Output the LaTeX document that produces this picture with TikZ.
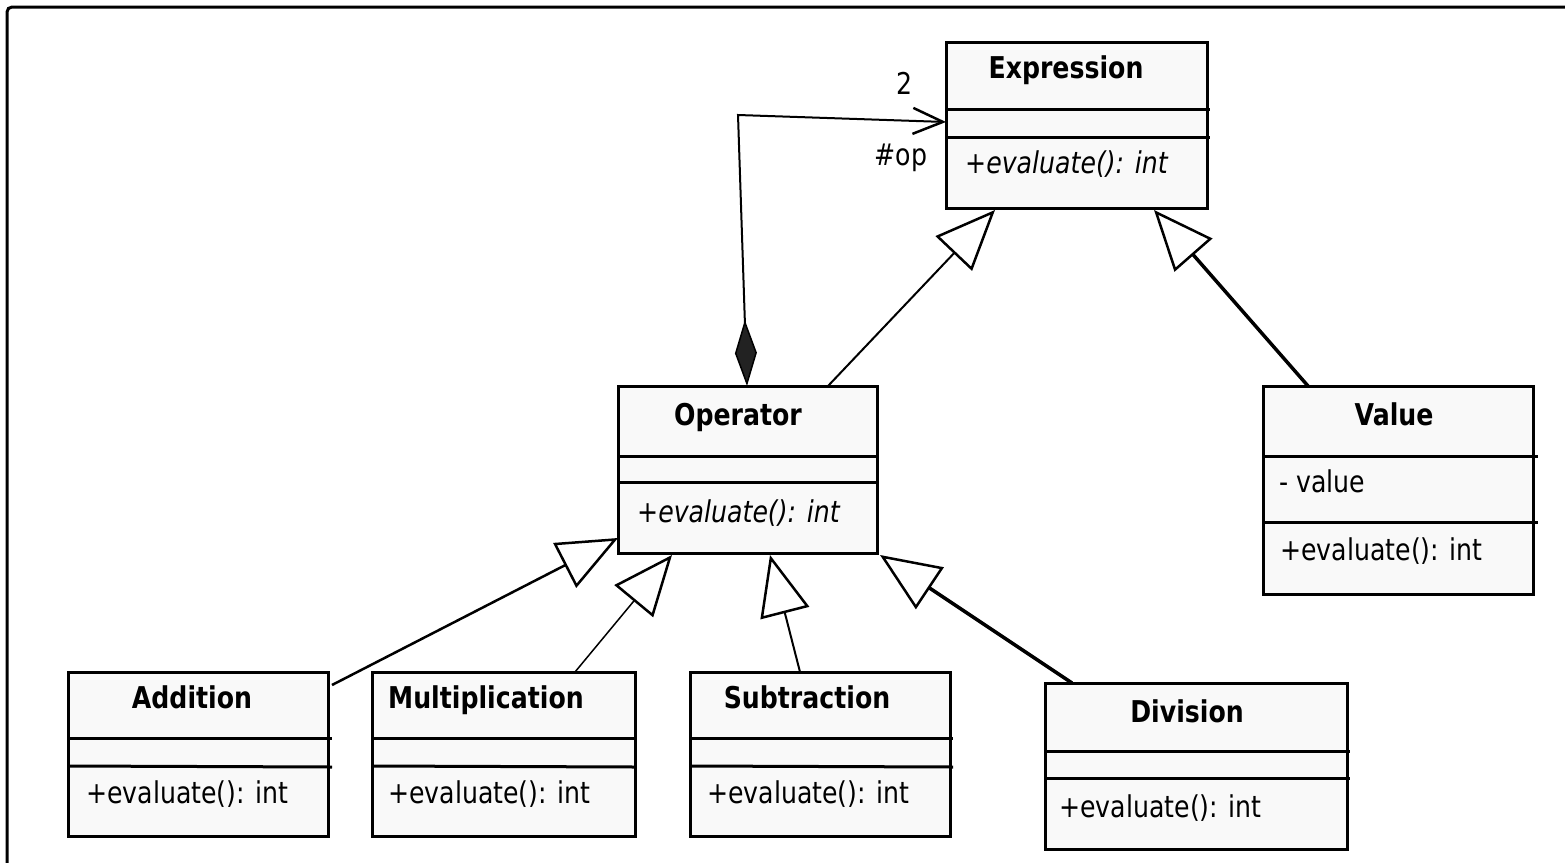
\documentclass[tikz,border=0pt]{standalone}
\usepackage{fontspec}
\setmainfont{DejaVu Sans}[FakeStretch=0.84]
\usetikzlibrary{arrows.meta,calc}
\definecolor{boxfill}{RGB}{249,249,249}
\definecolor{diamondc}{RGB}{34,34,34}
\begin{document}
\begin{tikzpicture}[x=1pt,y=-1pt,
  cls/.style={draw, line width=3pt, fill=boxfill, inner sep=0pt, outer sep=0pt, anchor=north west},
  divider/.style={line width=3pt},
  cname/.style={font=\bfseries\fontsize{30}{34}\selectfont, anchor=base, inner sep=0pt},
  member/.style={font=\fontsize{30}{34}\selectfont, anchor=base west, inner sep=0pt},
  abstr/.style={font=\itshape\fontsize{30}{34}\selectfont, anchor=base west, inner sep=0pt},
  rolelbl/.style={font=\fontsize{30}{34}\selectfont, inner sep=0pt},
  gen/.style={-{Triangle[open, length=60pt, width=50pt, line width=2.5pt]}}
]
\useasboundingbox (0,0) rectangle (1565,862);
\clip (0,0) rectangle (1565,862);
\draw[line width=3pt, rounded corners=5pt] (7,900) -- (7,7) -- (1600,7);

% Expression
\node[cls, minimum width=261pt, minimum height=166pt] (expr) at (946,42) {};
\draw[divider] (expr.north west) ++(0,67) -- ++(264,0);
\draw[divider] (expr.north west) ++(0,95) -- ++(264,0);
\node[cname] (exprname) at (1066,78) {Expression};
\node[abstr] (exprop) at (965,173) {+evaluate(): int};

% Operator
\node[cls, minimum width=259pt, minimum height=167pt] (op) at (618,386) {};
\draw[divider] (op.north west) ++(0,70) -- ++(259,0);
\draw[divider] (op.north west) ++(0,96) -- ++(259,0);
\node[cname] (opname) at (738,425) {Operator};
\node[abstr] (opop) at (637,522) {+evaluate(): int};

% Value
\node[cls, minimum width=270pt, minimum height=208pt] (val) at (1263,386) {};
\draw[divider] (val.north west) ++(0,70) -- ++(275,0);
\draw[divider] (val.north west) ++(0,136) -- ++(275,0);
\node[cname] (valname) at (1394,425) {Value};
\node[member] (valattr) at (1279,492) {- value};
\node[member] (valop) at (1280,560) {+evaluate(): int};

% Addition
\node[cls, minimum width=260pt, minimum height=164pt] (add) at (68,672) {};
\draw[divider] (add.north west) ++(0,66) -- ++(264,0);
\draw[divider] (add.north west) ++(0,94) -- ++(264,1);
\node[cname] (addname) at (192,708) {Addition};
\node[member] (addop) at (86,803) {+evaluate(): int};

% Multiplication
\node[cls, minimum width=263pt, minimum height=164pt] (mul) at (372,672) {};
\draw[divider] (mul.north west) ++(0,66) -- ++(263,0);
\draw[divider] (mul.north west) ++(0,94) -- ++(263,1);
\node[cname, anchor=base west] (mulname) at (388,708) {Multiplication};
\node[member] (mulop) at (388,803) {+evaluate(): int};

% Subtraction
\node[cls, minimum width=260pt, minimum height=164pt] (sub) at (690,672) {};
\draw[divider] (sub.north west) ++(0,66) -- ++(263,0);
\draw[divider] (sub.north west) ++(0,94) -- ++(263,1);
\node[cname] (subname) at (807,708) {Subtraction};
\node[member] (subop) at (707,803) {+evaluate(): int};

% Division
\node[cls, minimum width=302pt, minimum height=166pt] (div) at (1045,683) {};
\draw[divider] (div.north west) ++(0,68) -- ++(305,0);
\draw[divider] (div.north west) ++(0,95) -- ++(305,0);
\node[cname] (divname) at (1187,722) {Division};
\node[member] (divop) at (1059,817) {+evaluate(): int};

% Composition
\coordinate (bend) at (738,115);
\draw[line width=2pt, line join=miter,
  {Diamond[length=66pt,width=22pt,fill=diamondc,line width=1.5pt]}-{Straight Barb[length=30pt,width=26pt,line width=2.5pt]}]
  ([xshift=129pt]op.north west) -- (bend) -- ([yshift=-80pt]expr.north west);
\node[rolelbl] (mult) at (905,83) {2};
\node[rolelbl] (role) at (901,158) {\#op};

% Generalizations
\draw[gen, line width=2pt] ([xshift=210pt]op.north west) -- ([xshift=49pt,yshift=-2pt]expr.south west);
\draw[gen, line width=3.5pt] ([xshift=45pt]val.north west) -- ([xshift=208pt,yshift=-2pt]expr.south west);
\draw[gen, line width=2.5pt] ([xshift=4pt,yshift=-13pt]add.north east) -- ([yshift=15pt]op.south west);
\draw[gen, line width=1.5pt] ([xshift=203pt]mul.north west) -- ([xshift=54pt,yshift=-2pt]op.south west);
\draw[gen, line width=2pt] ([xshift=110pt]sub.north west) -- ([xshift=152pt,yshift=-2pt]op.south west);
\draw[gen, line width=3.5pt] ([xshift=27pt]div.north west) -- ([xshift=3pt,yshift=-2pt]op.south east);
\end{tikzpicture}
\end{document}
